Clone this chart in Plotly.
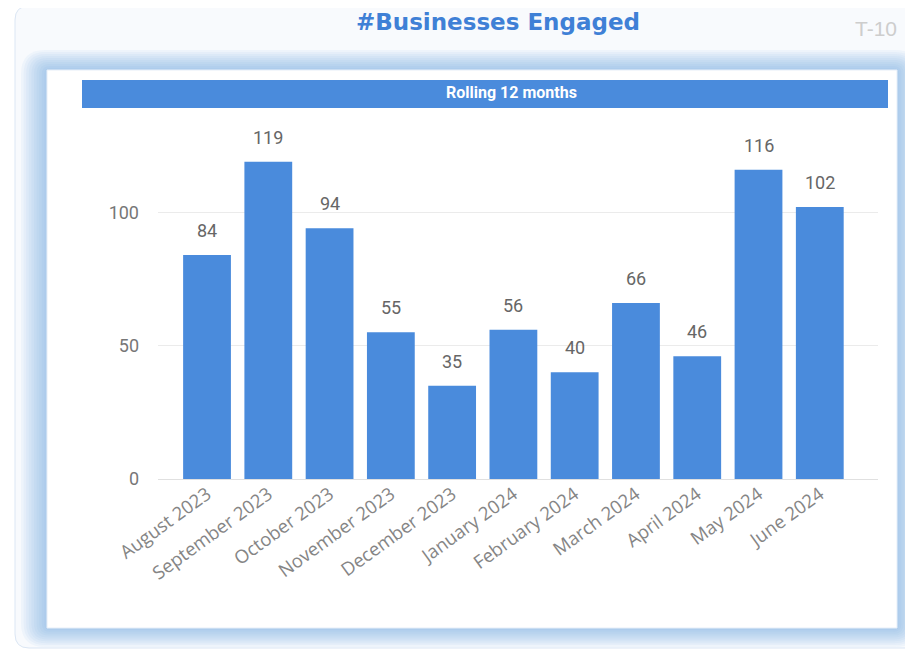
import plotly.graph_objects as go

months = ["August 2023", "September 2023", "October 2023", "November 2023",
          "December 2023", "January 2024", "February 2024", "March 2024",
          "April 2024", "May 2024", "June 2024"]
businesses = [84, 119, 94, 55, 35, 56, 40, 66, 46, 116, 102]
y_ticks = [0, 50, 100]

OFF = 8  # page body margin
W, H = 913 - OFF, 650 - OFF
PL, PR, PT, PB = 158, 878, 127, 479  # plot area in page pixels
L, T = PL - OFF, PT - OFF
R, B = W - (PR - OFF), H - (PB - OFF)
PW, PH = W - L - R, H - T - B


def px(x):
    return (x - OFF - L) / PW


def py(y):
    return (H - B - (y - OFF)) / PH


def rrect(x0, y0, x1, y1, r):
    rx, ry = r / PW, r / PH
    a, b, c, d = px(x0), py(y1), px(x1), py(y0)
    return (f"M{a+rx},{d} L{c-rx},{d} Q{c},{d} {c},{d-ry} L{c},{b+ry} Q{c},{b} {c-rx},{b} "
            f"L{a+rx},{b} Q{a},{b} {a},{b+ry} L{a},{d-ry} Q{a},{d} {a+rx},{d} Z")


shapes = []
# outer card
shapes.append(dict(type="path", xref="paper", yref="paper", layer="below",
                   path=rrect(15, 6, 935, 648, 14),
                   fillcolor="#f8fafd", line=dict(color="#dbe6f4", width=1)))
# glow around inner panel (bluish halo)
for i in range(10, 0, -1):
    shapes.append(dict(type="path", xref="paper", yref="paper", layer="below",
                       path=rrect(47 - i * 2.6, 70 - i * 2.0, 897 + i * 2.2, 628 + i * 1.9, 4 + i * 2),
                       fillcolor="rgba(110,160,228,0.065)", line=dict(width=0)))
# inner white panel
shapes.append(dict(type="rect", xref="paper", yref="paper", layer="below",
                   x0=px(47), x1=px(897), y0=py(628), y1=py(70),
                   fillcolor="#ffffff", line=dict(color="#e6eef8", width=1)))
# header bar
shapes.append(dict(type="rect", xref="paper", yref="paper", layer="below",
                   x0=px(82), x1=px(888), y0=py(108), y1=py(80),
                   fillcolor="#4a8bdc", line=dict(width=0)))

annotations = [
    dict(text="<b>#Businesses Engaged</b>", xref="paper", yref="paper",
         x=px(498), y=py(22), showarrow=False, xanchor="center", yanchor="middle",
         font=dict(family="DejaVu Sans", size=23, color="#3f80d6")),
    dict(text="T-10", xref="paper", yref="paper",
         x=px(899), y=py(28), showarrow=False, xanchor="right", yanchor="middle",
         font=dict(family="Liberation Sans", size=21, color="#cdcdcd")),
    dict(text="<b>Rolling 12 months</b>", xref="paper", yref="paper",
         x=px(511), y=py(92), showarrow=False, xanchor="center", yanchor="middle",
         font=dict(family="Roboto", size=16, color="#ffffff")),
]
for m, v in zip(months, businesses):
    annotations.append(dict(text=str(v), x=m, y=v, xref="x", yref="y",
                            showarrow=False, yanchor="bottom", yshift=12,
                            font=dict(family="Roboto", size=18, color="#666666")))

fig = go.Figure(go.Bar(x=months, y=businesses, marker=dict(color="#4a8bdc", line=dict(width=0)),
                       hoverinfo="x+y"))

fig.update_layout(
    width=W, height=H,
    margin=dict(l=L, r=R, t=T, b=B, autoexpand=False),
    paper_bgcolor="#ffffff", plot_bgcolor="rgba(0,0,0,0)",
    bargap=0.22, showlegend=False,
    shapes=shapes, annotations=annotations,
    xaxis=dict(range=[-0.8, 10.95], tickangle=-36, showgrid=False,
               tickfont=dict(family="Open Sans", size=18.5, color="#858585"),
               showline=False, zeroline=False, ticks=""),
    yaxis=dict(range=[0, 132], tickvals=y_ticks, showgrid=True, gridcolor="#ebebeb",
               zeroline=True, zerolinecolor="#e0e0e0", zerolinewidth=1,
               tickfont=dict(family="Roboto", size=18, color="#777777"),
               ticklabelstandoff=18, ticks=""),
)

fig.write_html("out.html")
